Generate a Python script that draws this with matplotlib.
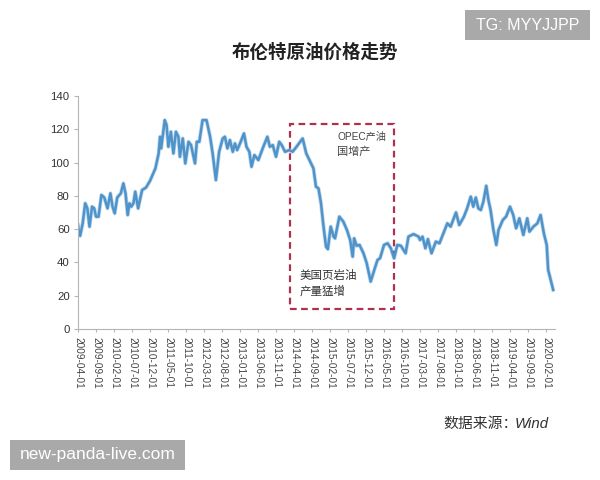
import matplotlib
matplotlib.use("Agg")
import matplotlib.pyplot as plt
from matplotlib.patches import Rectangle

plt.rcParams["font.family"] = ["Liberation Sans", "Noto Sans CJK SC"]

W, H = 600, 480

TITLE = "布伦特原油价格走势"
SOURCE_CN = "数据来源："
SOURCE_EN = "Wind"

# months since 2009-04
months = [
    0, .2, .6, 1.3, 2, 2.6, 3.2, 3.9, 4.5, 5,
    5.7, 6.5, 7.3, 8.2, 9, 9.6, 10.2, 10.9, 11.9, 12.6,
    13.2, 13.8, 14.3, 14.8, 15.4, 15.9, 16.7, 17.8, 18.9, 20,
    21.5, 22.4, 22.8, 23.1, 24.1, 24.6, 25.1, 25.8, 26.5, 27.2,
    27.9, 28.3, 29.1, 29.8, 30.7, 31.4, 32.5, 33, 33.7, 34.6,
    35.7, 36.7, 37.4, 38.3, 39.2, 40.2, 40.8, 41.5, 42.2, 43,
    43.6, 44.2, 45.2, 46.1, 46.8, 47.6, 48.2, 49, 50.1, 51.3,
    52.6, 53.3, 54.1, 55, 55.9, 56.6, 57.5, 58.7, 59.6, 60.7,
    62.4, 63.4, 64.5, 65.4, 66.1, 66.8, 67.5, 68.2, 68.9, 69.4,
    70.2, 71, 71.4, 72.6, 73.7, 74.7, 75.6, 76.3, 76.7, 77.4,
    78.2, 79.3, 80.2, 81.3, 82.3, 83.2, 83.9, 85, 86, 86.9,
    87.8, 88.7, 89.7, 91, 91.8, 93.2, 94.6, 95, 95.7, 96.5,
    97.2, 98.2, 99.4, 100.4, 101.5, 102.6, 103.5, 105, 105.9, 107.2,
    108.1, 109.1, 109.8, 110.5, 111.2, 111.9, 112.6, 113.4, 114, 114.6,
    115.4, 116.2, 116.8, 118, 118.9, 120, 120.9, 121.7, 122.6, 123.7,
    124.8, 125.4, 126.5, 127.6, 128.5, 129.4, 130.2, 130.6, 131.3, 132,
]
brent = [
    62.5, 59.5, 56, 63.5, 75.5, 72.5, 61.5, 73.5, 72.5, 67.5,
    67.5, 80.5, 79, 72.5, 81.5, 73.5, 69.5, 79, 81.5, 87.5,
    81.5, 68.5, 75.5, 73.5, 75.5, 82.5, 72.5, 83.5, 85, 89,
    96.5, 105.5, 115.5, 108.5, 125.5, 122.5, 109.5, 118.5, 105.5, 118.5,
    115.5, 103.5, 114.5, 99.5, 112.5, 110.5, 99.5, 112.5, 112.5, 125.5,
    125.5, 115.5, 105.5, 89.5, 106.5, 114.5, 115.5, 108.5, 113.5, 106.5,
    111.5, 107.5, 112.5, 117.5, 109.5, 106.5, 97.5, 104.5, 101.5, 108.5,
    115.5, 109.5, 110.5, 103.5, 112.5, 110.5, 106.5, 107.5, 106.5, 109.5,
    114.5, 105.5, 100.5, 96.5, 85.5, 84.5, 75.5, 61.5, 49.5, 48,
    61.5, 55.5, 54.5, 67.5, 64.5, 59.5, 53.5, 43.5, 54.5, 50,
    50.5, 45.5, 39.5, 28.5, 35.5, 41.5, 42.5, 50.5, 51.5, 48.5,
    42.5, 50.5, 50, 45.5, 55.5, 57, 55.5, 53.5, 55.5, 48.5,
    54, 45.5, 52.5, 51.5, 57.5, 63.5, 61.5, 70, 62.5, 67.5,
    72.5, 79.5, 73.5, 79, 72.5, 71.5, 76.5, 86, 77.5, 71.5,
    59.5, 50.5, 59.5, 65.5, 67.5, 73.5, 68.5, 60.5, 66.5, 56.5,
    66.5, 58.5, 61.5, 63.5, 68.5, 57.5, 50.5, 35.5, 29.5, 23.5,
]
tick_labels = [
    "2009-04-01", "2009-09-01", "2010-02-01", "2010-07-01", "2010-12-01", "2011-05-01", "2011-10-01",
    "2012-03-01", "2012-08-01", "2013-01-01", "2013-06-01", "2013-11-01", "2014-04-01", "2014-09-01",
    "2015-02-01", "2015-07-01", "2015-12-01", "2016-05-01", "2016-10-01", "2017-03-01", "2017-08-01",
    "2018-01-01", "2018-06-01", "2018-11-01", "2019-04-01", "2019-09-01", "2020-02-01",
]
y_ticks = [0, 20, 40, 60, 80, 100, 120, 140]


def fig_text(fig, px, py, s, **kw):
    fig.text(px / W, 1 - py / H, s, **kw)


def watermark(fig, x0, y0, x1, y1, s, size):
    fig.patches.append(Rectangle((x0 / W, 1 - y1 / H), (x1 - x0) / W, (y1 - y0) / H,
                                 transform=fig.transFigure, color="#a9a9a9", lw=0))
    fig_text(fig, (x0 + x1) / 2, (y0 + y1) / 2, s, color="white", fontsize=size,
             ha="center", va="center")


fig = plt.figure(figsize=(W / 100, H / 100), dpi=100)
ax = fig.add_axes([78 / W, 1 - 329 / H, (555 - 78) / W, (329 - 96) / H])

# soft edge like the blurry screenshot
ax.plot(months, brent, color="#4f93cb", linewidth=2.9, alpha=0.35)
ax.plot(months, brent, color="#4f93cb", linewidth=1.8)

ax.add_patch(Rectangle((58.9, 12), 28.9, 111.2, fill=False, edgecolor="#b03050",
                       linewidth=1.6, linestyle=(0, (3, 2))))

ax.set_xlim(0, 132.5)
ax.set_ylim(0, 140)
ax.set_yticks(y_ticks)
ax.set_xticks([i * 5 for i in range(len(tick_labels))])
ax.set_xticklabels(tick_labels, rotation=270, fontsize=7.2, color="#444444")
ax.tick_params(axis="y", labelsize=8.2, labelcolor="#333333", color="#b5b5b5", length=3, pad=3)
ax.tick_params(axis="x", color="#b5b5b5", length=2, pad=4)
for side in ["top", "right"]:
    ax.spines[side].set_visible(False)
for side in ["left", "bottom"]:
    ax.spines[side].set_color("#b5b5b5")

fig_text(fig, 315, 53, TITLE, fontsize=13.3, fontweight="bold", color="#222222", ha="center", va="center")
fig_text(fig, 337, 137, "OPEC产油", fontsize=7.3, color="#444444", va="center")
fig_text(fig, 337, 152, "国增产", fontsize=8, color="#444444", va="center")
fig_text(fig, 300, 276, "美国页岩油", fontsize=8.3, color="#333333", va="center")
fig_text(fig, 300, 292, "产量猛增", fontsize=8.3, color="#333333", va="center")
fig_text(fig, 443, 424, SOURCE_CN, fontsize=10.7, color="#333333", va="center")
fig_text(fig, 515, 424, SOURCE_EN, fontsize=10.8, style="italic", color="#333333", va="center")

watermark(fig, 465, 10, 590, 40, "TG: MYYJJPP", 11.5)
watermark(fig, 10, 440, 185, 470, "new-panda-live.com", 12.5)

fig.savefig("out.png", dpi=100)
